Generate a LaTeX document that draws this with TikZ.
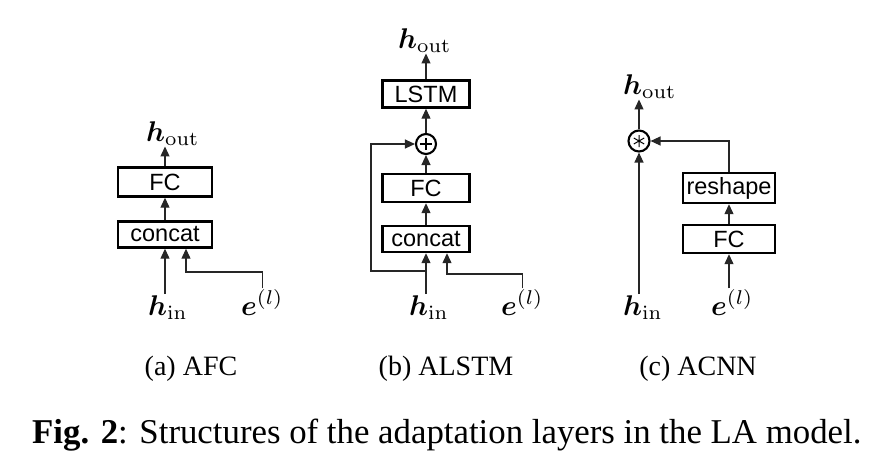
\documentclass[tikz,border=0pt]{standalone}
\usepackage[no-math]{fontspec}
\usepackage{amsmath,bm}
\usetikzlibrary{arrows.meta,calc}
\newfontfamily\capfont{Liberation Serif}
\newfontfamily\boxfont{Liberation Sans}
\newcommand{\mlbl}[1]{\scalebox{2.85}{$#1$}}
\tikzset{
  blk/.style={draw=black, line width=2.4pt, inner sep=0pt, minimum height=27pt,
    font=\boxfont\fontsize{23.5}{25}\selectfont},
  arr/.style={line width=1.2pt, draw=black!85, -{Triangle[length=10pt,width=9pt]}},
  mlab/.style={anchor=base west, inner sep=1pt},
  sublab/.style={anchor=base, inner sep=0pt, font=\capfont\fontsize{28}{30}\selectfont},
  opc/.style={circle, draw=black, line width=2.1pt, minimum size=20pt, inner sep=0pt},
}
\begin{document}
\begin{tikzpicture}[x=1pt,y=-1pt]
\useasboundingbox (0,0) rectangle (871,469);
% ---------- (a) AFC ----------
\node[blk, minimum width=94pt, minimum height=29pt] (fcA) at (165,182) {FC};
\node[blk, minimum width=94pt, minimum height=26pt] (concatA) at (165,234.5) {concat};
\node[mlab] (houtA) at (145,141) {\mlbl{\bm{h}_{\mathrm{out}}}};
\node[mlab] (hinA) at (147,315) {\mlbl{\bm{h}_{\mathrm{in}}}};
\node[mlab] (eA) at (240,315) {\mlbl{\bm{e}^{(l)}}};
\coordinate (kA) at (186,272);
\draw[arr] (fcA.north) -- (fcA.north |- houtA.south);
\draw[arr] (concatA.north) -- (fcA.south);
\draw[arr] (concatA.south |- hinA.north) -- (concatA.south);
\draw[arr] (eA.north) |- (kA) -- (kA |- concatA.south);
\node[sublab] (capA) at (191,375) {(a) AFC};
% ---------- (b) ALSTM ----------
\node[blk, minimum width=87pt] (lstmB) at (426,94) {LSTM};
\node[opc] (plusB) at (426,144) {};
\draw[line width=1.1pt] ([xshift=-6pt]plusB.center) -- ([xshift=6pt]plusB.center)
  ([yshift=-6pt]plusB.center) -- ([yshift=6pt]plusB.center);
\node[blk, minimum width=87pt, minimum height=28pt] (fcB) at (426,188) {FC};
\node[blk, minimum width=87pt, minimum height=26pt] (concatB) at (426,239) {concat};
\node[mlab] (houtB) at (397,48) {\mlbl{\bm{h}_{\mathrm{out}}}};
\node[mlab] (hinB) at (408,315) {\mlbl{\bm{h}_{\mathrm{in}}}};
\node[mlab] (eB) at (500,315) {\mlbl{\bm{e}^{(l)}}};
\coordinate (lB) at (371,271);
\coordinate (kB) at (447,274);
\draw[arr] (lstmB.north) -- (lstmB.north |- houtB.south);
\draw[arr] (plusB.north) -- (lstmB.south);
\draw[arr] (fcB.north) -- (plusB.south);
\draw[arr] (concatB.north) -- (fcB.south);
\draw[arr] (concatB.south |- hinB.north) -- (concatB.south);
\draw[arr] (concatB.south |- lB) -- (lB) |- (plusB.west);
\draw[arr] (eB.north) |- (kB) -- (kB |- concatB.south);
\node[sublab] (capB) at (446,375) {(b) ALSTM};
% ---------- (c) ACNN ----------
\node[opc, minimum size=21pt] (astC) at (639,141) {};
\draw[line width=1pt] ([yshift=-6pt]astC.center) -- ([yshift=6pt]astC.center)
  ($(astC.center)+(30:6pt)$) -- ($(astC.center)+(210:6pt)$)
  ($(astC.center)+(150:6pt)$) -- ($(astC.center)+(330:6pt)$);
\node[blk, minimum width=92pt, minimum height=30pt] (reshC) at (729,188) {reshape};
\node[blk, minimum width=92pt, minimum height=28pt] (fcC) at (729,239) {FC};
\node[mlab] (houtC) at (622,94) {\mlbl{\bm{h}_{\mathrm{out}}}};
\node[mlab] (hinC) at (622,315) {\mlbl{\bm{h}_{\mathrm{in}}}};
\node[mlab] (eC) at (710,315) {\mlbl{\bm{e}^{(l)}}};
\draw[arr] (astC.north) -- (astC.north |- houtC.south);
\draw[arr] (astC.south |- hinC.north) -- (astC.south);
\draw[arr] (fcC.north) -- (reshC.south);
\draw[arr] (fcC.south |- eC.north) -- (fcC.south);
\draw[arr] (reshC.north) |- (astC.east);
\node[sublab] (capC) at (698,375) {(c) ACNN};
% ---------- caption ----------
\node[anchor=base west, inner sep=0pt, font=\capfont\fontsize{34.8}{36}\selectfont] (cap) at (32,443)
  {\textbf{Fig. 2}: Structures of the adaptation layers in the LA model.};
\end{tikzpicture}
\end{document}
